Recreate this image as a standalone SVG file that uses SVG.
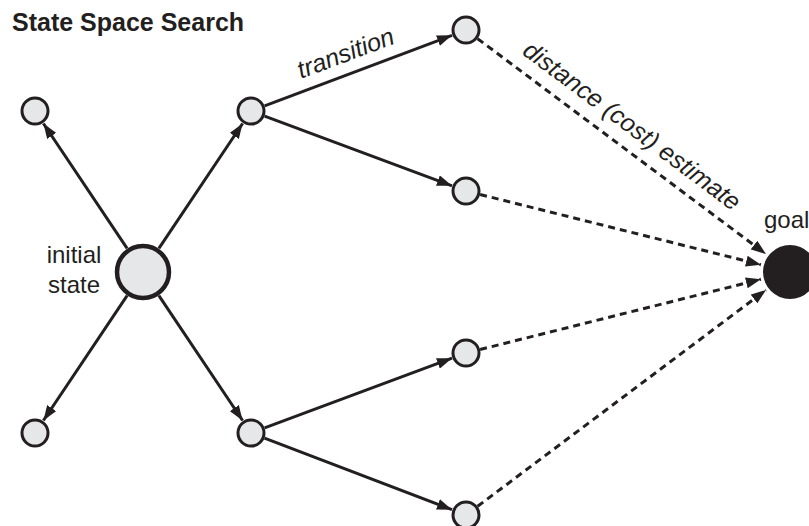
<svg xmlns="http://www.w3.org/2000/svg" width="809" height="526" viewBox="0 0 809 526">
<defs>
<style>
.node{fill:#e6e7e8;stroke:#231f20;stroke-width:3}
.big{fill:#e6e7e8;stroke:#231f20;stroke-width:4.5}
.goal{fill:#231f20;stroke:none}
.edge{stroke:#231f20;stroke-width:3;fill:none;marker-end:url(#ah)}
.dash{stroke:#231f20;stroke-width:3;fill:none;stroke-dasharray:7 5;marker-end:url(#ah)}
.lbl{font-family:"Liberation Sans",Arial,sans-serif;font-size:24px;fill:#231f20}
.it{font-family:"Liberation Sans",Arial,sans-serif;font-size:25px;font-style:italic;fill:#231f20}
.title{font-family:"Liberation Sans",Arial,sans-serif;font-size:25px;font-weight:bold;fill:#231f20}
</style>
<marker id="ah" markerUnits="userSpaceOnUse" markerWidth="15" markerHeight="11" refX="15" refY="5.5" orient="auto">
<path d="M0,0 L15,5.5 L0,11 z" fill="#231f20"/>
</marker>
</defs>
<rect width="809" height="526" fill="#ffffff"/>
<text class="title" x="12" y="31">State Space Search</text>
<g id="connectors">
<line class="edge" x1="127.1" y1="248.3" x2="43.4" y2="123.5"/>
<line class="edge" x1="158.9" y1="248.3" x2="242.6" y2="123.5"/>
<line class="edge" x1="127.1" y1="295.7" x2="43.4" y2="420.5"/>
<line class="edge" x1="158.9" y1="295.7" x2="242.6" y2="420.5"/>
<line class="edge" x1="264.6" y1="105.9" x2="452" y2="35.3"/>
<line class="edge" x1="264.6" y1="116.1" x2="452" y2="185.8"/>
<line class="edge" x1="264.6" y1="427.9" x2="452" y2="358.2"/>
<line class="edge" x1="264.5" y1="438.2" x2="452" y2="509.7"/>
<line class="dash" x1="477.6" y1="38.7" x2="766" y2="254.1"/>
<line class="dash" x1="480.1" y1="194.5" x2="760.9" y2="264.7"/>
<line class="dash" x1="480.1" y1="349.5" x2="760.9" y2="279.3"/>
<line class="dash" x1="477.6" y1="506.3" x2="766" y2="290"/>
<text class="it" text-anchor="middle" transform="translate(348.5,61) rotate(-20.6)">transition</text>
<text class="it" text-anchor="middle" transform="translate(627,132.5) rotate(36.75)">distance (cost) estimate</text>
</g>
<g id="initial">
<circle class="big" cx="143" cy="272" r="26"/>
<text class="lbl" text-anchor="middle" x="74" y="263">initial</text>
<text class="lbl" text-anchor="middle" x="74" y="293">state</text>
</g>
<g id="n1"><circle class="node" cx="35" cy="111" r="13"/></g>
<g id="n2"><circle class="node" cx="251" cy="111" r="13"/></g>
<g id="n3"><circle class="node" cx="35" cy="433" r="13"/></g>
<g id="n4"><circle class="node" cx="251" cy="433" r="13"/></g>
<g id="n5"><circle class="node" cx="466" cy="30" r="13"/></g>
<g id="n6"><circle class="node" cx="466" cy="191" r="13"/></g>
<g id="n7"><circle class="node" cx="466" cy="353" r="13"/></g>
<g id="n8"><circle class="node" cx="466" cy="515" r="13"/></g>
<g id="goal">
<circle class="goal" cx="790" cy="272" r="27"/>
<text class="lbl" x="764" y="228">goal</text>
</g>
</svg>
